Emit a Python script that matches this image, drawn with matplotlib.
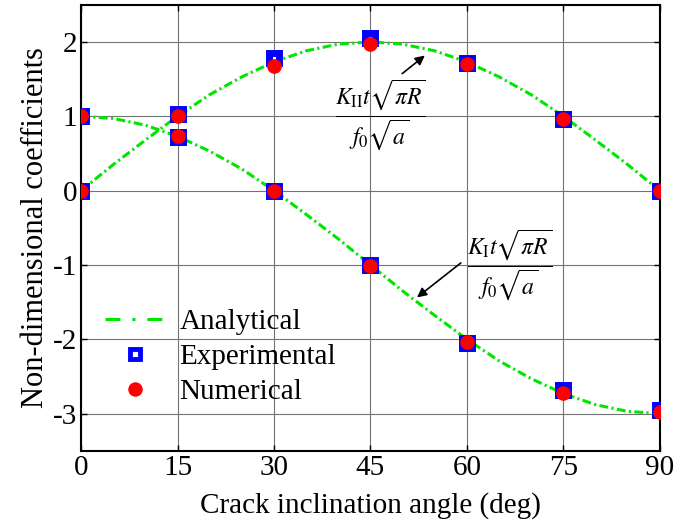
import matplotlib
matplotlib.use('Agg')
import matplotlib.pyplot as plt
from matplotlib.lines import Line2D

plt.rcParams['font.family'] = ['Liberation Serif', 'DejaVu Serif']
plt.rcParams['mathtext.fontset'] = 'stix'
plt.rcParams['axes.unicode_minus'] = False

# 数据
angle_pts = [0, 15, 30, 45, 60, 75, 90]
exp_KI = [1.0, 0.72, 0.0, -1.0, -2.05, -2.68, -2.95]
exp_KII = [0.0, 1.03, 1.78, 2.05, 1.72, 0.96, 0.0]
num_KI = [1.0, 0.73, 0.0, -1.02, -2.03, -2.72, -2.98]
num_KII = [0.0, 1.0, 1.68, 1.97, 1.70, 0.96, 0.0]

angle_line = [0, 5, 10, 15, 20, 25, 30, 35, 40, 45, 50, 55, 60, 65, 70, 75, 80, 85, 90]
ana_KI = [1.0, 0.97, 0.88, 0.73, 0.53, 0.29, 0.0, -0.32, -0.65, -1.0, -1.35, -1.68,
          -2.0, -2.29, -2.53, -2.73, -2.88, -2.97, -3.0]
ana_KII = [0.0, 0.35, 0.68, 1.0, 1.29, 1.53, 1.73, 1.88, 1.97, 2.0, 1.97, 1.88,
           1.73, 1.53, 1.29, 1.0, 0.68, 0.35, 0.0]

xticks = [0, 15, 30, 45, 60, 75, 90]
yticks = [-3, -2, -1, 0, 1, 2]

fig = plt.figure(figsize=(6.76, 5.26), dpi=100)
ax = fig.add_axes([0.12, 0.143, 0.856, 0.848])

green = '#00e600'
blue = '#0000ff'
red = '#ff0000'
ax.plot(angle_line, ana_KI, color=green, lw=2.2, dashes=(2.9, 1.1, 0.7, 1.1), zorder=3)
ax.plot(angle_line, ana_KII, color=green, lw=2.2, dashes=(2.9, 1.1, 0.7, 1.1), zorder=3)
ax.plot(angle_pts, exp_KI, 's', ms=7.5, mfc='white', mec=blue, mew=5, ls='none', zorder=4)
ax.plot(angle_pts, exp_KII, 's', ms=7.5, mfc='white', mec=blue, mew=5, ls='none', zorder=4)
ax.plot(angle_pts, num_KI, 'o', ms=9.5, color=red, ls='none', zorder=5)
ax.plot(angle_pts, num_KII, 'o', ms=9.5, color=red, ls='none', zorder=5)

ax.set_xlim(0, 90)
ax.set_ylim(-3.5, 2.5)
ax.set_xticks(xticks)
ax.set_yticks(yticks)
ax.grid(True, color='0.45', lw=0.8)
ax.tick_params(direction='in', top=True, right=True, labelsize=21, length=4, width=1, pad=3)
for s in ax.spines.values():
    s.set_linewidth(1.5)

ax.set_xlabel('Crack inclination angle (deg)', fontsize=21, labelpad=8)
ax.set_ylabel('Non-dimensional coefficients', fontsize=22, labelpad=2)

ax.annotate('', xy=(53.8, 1.84), xytext=(49.6, 1.55),
            arrowprops=dict(arrowstyle='-|>', color='black', lw=1.2, mutation_scale=14))
ax.text(46.5, 1.02, r'$\dfrac{K_{\rm II}t\sqrt{\pi R}}{f_0\sqrt{a}}$', fontsize=17,
        ha='center', va='center')
ax.annotate('', xy=(51.9, -1.46), xytext=(59.4, -0.95),
            arrowprops=dict(arrowstyle='-|>', color='black', lw=1.2, mutation_scale=14))
ax.text(66.7, -1.0, r'$\dfrac{K_{\rm I}t\sqrt{\pi R}}{f_0\sqrt{a}}$', fontsize=17,
        ha='center', va='center')

handles = [
    Line2D([], [], color=green, lw=2.2, dashes=(4.9, 3.9, 1.0, 3.9)),
    Line2D([], [], marker='s', ms=6.5, mfc='white', mec=blue, mew=3.5, ls='none'),
    Line2D([], [], marker='o', ms=9.4, color=red, ls='none'),
]
ax.legend(handles, ['Analytical', 'Experimental', 'Numerical'],
          loc='center left', bbox_to_anchor=(0.041, 0.21), frameon=False, fontsize=21,
          handlelength=2.05, labelspacing=0.3, handletextpad=0.5,
          borderpad=0, borderaxespad=0)

fig.savefig('out.png', dpi=100)
